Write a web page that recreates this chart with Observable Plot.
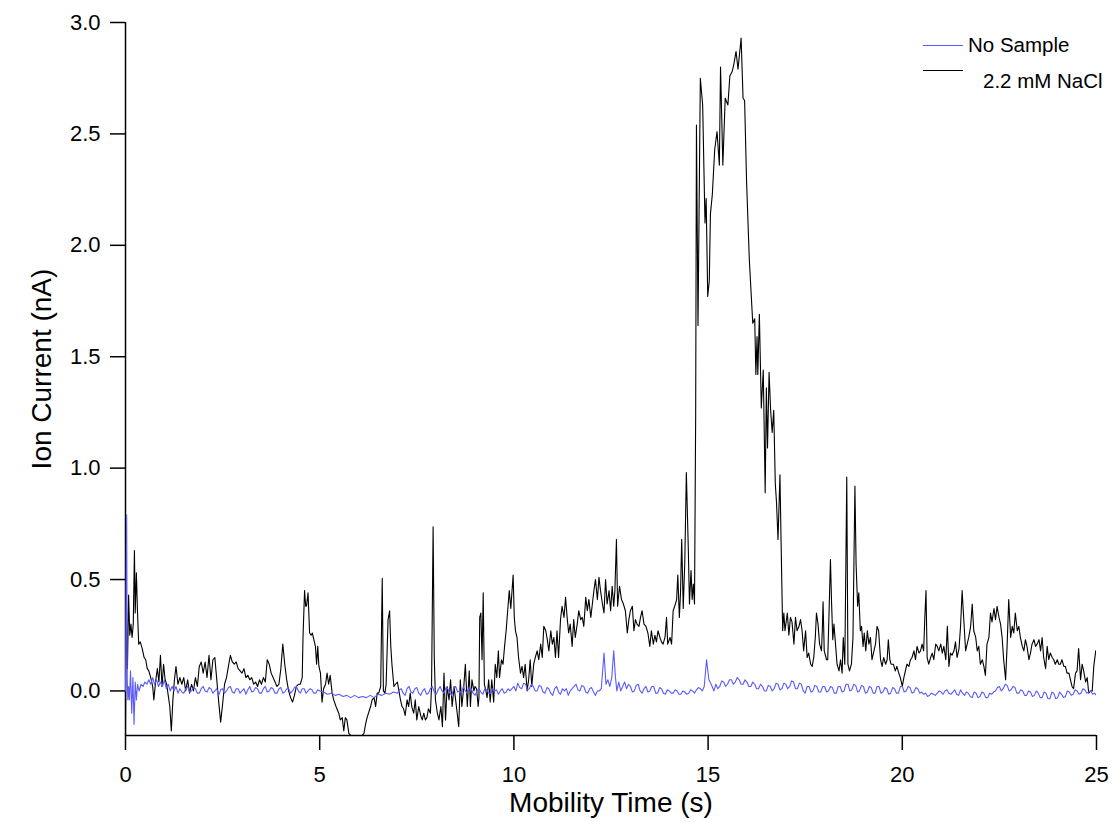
<!DOCTYPE html>
<html>
<head>
<meta charset="utf-8">
<script src="https://cdn.jsdelivr.net/npm/d3@7"></script>
<script src="https://cdn.jsdelivr.net/npm/@observablehq/plot@0.6"></script>
<style>
  html, body { margin: 0; padding: 0; background: #fff; }
  #wrap { position: relative; width: 1112px; height: 822px; font-family: "Liberation Sans", Arial, sans-serif; }
  .leg { position: absolute; display: flex; align-items: center; font-size: 20.5px; color: #000; white-space: nowrap; }
  .leg .sw { display: inline-block; width: 40px; height: 0; border-top: 1.2px solid; }
</style>
</head>
<body>
<div id="wrap"></div>
<script>
// ---- data ----
const seriesNames = ["No Sample", "2.2 mM NaCl"];
const seriesColors = ["#5b5bff", "#000000"];
const xTicks = [0, 5, 10, 15, 20, 25];
const yTicks = [0, 0.5, 1.0, 1.5, 2.0, 2.5, 3.0];
const xLabel = "Mobility Time (s)";
const yLabel = "Ion Current (nA)";

// No Sample trace [time s, current nA]
const noSample = [
[0,0.0],[0.03,0.79],[0.045,0.05],[0.06,-0.04],[0.08,0.02],[0.1,-0.04],[0.13,0.09],[0.16,-0.1],[0.19,0.06],[0.22,-0.15],[0.25,0.04],[0.28,-0.04],[0.31,0.03],[0.35,0.0],[0.4,0.03],[0.45,0.02],[0.5,0.04],[0.55,0.03],[0.6,0.05],[0.65,0.03],[0.7,0.06],[0.75,0.03],[0.8,0.05],[0.85,0.02],[0.9,0.04],[0.95,0.02],[1.0,0.05],[1.05,0.01],[1.1,0.03],[1.15,0.0],[1.2,0.02],[1.25,0.0],[1.3,0.02],[1.35,-0.01],
[1.4,0.01],[1.45,-0.005],[1.5,-0.01],[1.55,0.01],[1.6,0.02],[1.65,-0.005],[1.7,0.0],[1.75,0.015],[1.8,0.01],[1.85,-0.01],[1.9,-0.01],[1.95,0.01],[2.0,0.02],[2.05,0.0],[2.1,-0.005],[2.15,0.015],[2.2,0.01],[2.25,-0.01],[2.3,0.0],[2.35,0.01],[2.4,-0.02],[2.45,0.005],[2.5,0.01],[2.55,-0.01],[2.6,0.0],[2.65,0.015],[2.7,0.02],[2.75,-0.005],[2.8,-0.01],[2.85,0.01],[2.9,0.01],[2.95,-0.01],[3.0,0.0],[3.05,0.01],[3.1,-0.015],[3.15,0.005],[3.2,0.02],[3.25,-0.005],[3.3,0.0],[3.35,0.015],[3.4,0.01],[3.45,-0.01],[3.5,-0.01],[3.55,0.01],[3.6,0.02],[3.65,-0.005],[3.7,0.0],[3.75,0.015],[3.8,0.01],[3.85,-0.01],[3.9,-0.01],[3.95,0.01],[4.0,0.015],[4.05,-0.01],[4.1,-0.005],[4.15,0.01],[4.2,0.01],[4.25,-0.01],[4.3,0.0],[4.35,0.015],[4.4,0.02],[4.45,0.0],[4.5,-0.01],[4.55,0.01],[4.6,0.01],[4.65,-0.01],[4.7,0.0],[4.75,0.01],[4.8,0.005],[4.85,-0.01],[4.9,-0.01],[4.95,0.005],[5.0,0.0],
[5.1,-0.005],[5.2,-0.015],[5.3,-0.01],[5.4,-0.02],[5.5,-0.015],[5.6,-0.025],[5.7,-0.02],[5.8,-0.03],[5.9,-0.02],[6.0,-0.03],[6.1,-0.025],[6.2,-0.03],[6.3,-0.02],[6.4,-0.03],[6.5,-0.015],[6.6,-0.02],[6.7,-0.01],[6.8,-0.015],[6.9,-0.005],[7.0,-0.01],
[7.05,0.005],[7.1,0.01],[7.15,-0.01],[7.2,-0.02],[7.25,0.01],[7.3,0.02],[7.35,-0.005],[7.4,-0.01],[7.45,0.01],[7.5,0.015],[7.55,-0.01],[7.6,-0.02],[7.65,0.0],[7.7,0.01],[7.75,-0.015],[7.8,-0.01],[7.85,0.01],[7.9,0.02],[7.95,-0.005],[8.0,-0.015],[8.05,0.005],[8.1,0.02],[8.15,0.0],[8.2,-0.01],[8.25,0.015],[8.3,0.01],[8.35,-0.01],[8.4,-0.02],[8.45,0.01],[8.5,0.02],[8.55,-0.005],[8.6,0.0],[8.65,-0.01],[8.7,0.02],[8.75,0.0],[8.8,-0.01],[8.85,0.015],[8.9,0.01],[8.95,-0.01],[9.0,-0.02],[9.05,0.0],[9.1,0.01],[9.15,-0.005],[9.2,-0.015],[9.25,0.01],[9.3,0.005],[9.35,-0.01],[9.4,-0.01],[9.45,0.01],[9.5,0.0],[9.55,0.005],[9.6,-0.015],[9.65,0.0],[9.7,0.01],[9.75,-0.01],[9.8,-0.005],[9.85,0.01],[9.9,0.0],[9.95,0.01],[10.0,0.02],[10.05,0.0],[10.1,0.035],[10.15,0.015],[10.2,0.01],[10.25,0.035],[10.3,0.03],[10.35,0.005],[10.4,0.01],[10.45,0.03],[10.5,0.02],[10.55,0.0],[10.6,0.0],[10.65,0.025],[10.7,0.02],[10.75,-0.005],[10.8,-0.01],[10.85,0.015],[10.9,0.01],[10.95,-0.01],[11.0,-0.02],[11.05,0.01],[11.1,0.02],[11.15,-0.005],[11.2,-0.015],[11.25,0.01],[11.3,0.0],[11.35,0.01],[11.4,-0.02],[11.45,0.0],[11.5,0.01],[11.55,0.02],[11.6,0.03],[11.65,0.005],[11.7,0.0],[11.75,0.025],[11.8,0.02],[11.85,-0.005],[11.9,-0.01],[11.95,0.01],[12.0,0.015],[12.05,-0.005],[12.1,-0.02],[12.15,0.0],[12.2,0.0],[12.25,0.01],[12.32,0.17],[12.37,0.03],[12.42,0.05],[12.47,0.02],[12.52,0.06],[12.57,0.18],[12.61,0.07],[12.65,0.0],[12.7,0.04],[12.75,0.0],[12.8,0.02],[12.85,0.04],[12.9,0.01],[12.95,0.03],[13.0,0.02],[13.05,-0.005],[13.1,0.0],[13.15,0.025],[13.2,0.03],[13.25,0.0],[13.3,-0.01],[13.35,0.01],[13.4,0.02],[13.45,-0.005],[13.5,0.0],[13.55,0.02],[13.6,0.02],[13.65,-0.01],[13.7,-0.01],[13.75,0.015],[13.8,0.01],[13.85,-0.01],[13.9,-0.015],[13.95,0.005],[14.0,0.0],[14.05,-0.01],[14.1,-0.01],[14.15,0.005],[14.2,0.0],[14.25,-0.015],[14.3,-0.015],[14.35,0.0],[14.4,-0.005],[14.45,-0.015],[14.5,-0.01],[14.55,0.005],[14.6,0.0],[14.65,-0.01],[14.7,0.005],[14.75,0.015],[14.8,0.01],[14.85,0.0],[14.9,0.02],[14.96,0.14],[15.02,0.05],[15.08,0.03],[15.15,0.0],[15.2,0.03],[15.25,0.01],[15.3,0.02],[15.35,0.045],[15.4,0.04],[15.45,0.02],[15.5,0.03],[15.55,0.05],[15.6,0.05],[15.65,0.03],[15.7,0.04],[15.75,0.06],[15.8,0.05],[15.85,0.03],[15.9,0.03],[15.95,0.05],[16.0,0.04],[16.05,0.02],[16.1,0.02],[16.15,0.04],[16.2,0.03],[16.25,0.01],[16.3,0.01],[16.35,0.03],[16.4,0.02],[16.45,0.0],[16.5,0.0],[16.55,0.025],[16.6,0.02],[16.65,0.0],[16.7,0.01],[16.75,0.035],[16.8,0.03],[16.85,0.005],[16.9,0.01],[16.95,0.035],[17.0,0.03],[17.05,0.01],[17.1,0.02],[17.15,0.045],[17.2,0.04],[17.25,0.01],[17.3,0.01],[17.35,0.035],[17.4,0.03],[17.45,0.0],[17.5,-0.01],[17.55,0.02],[17.6,0.02],[17.65,-0.005],[17.7,0.0],[17.75,0.025],[17.8,0.02],[17.85,-0.005],[17.9,-0.005],[17.95,0.02],[18.0,0.02],[18.05,-0.005],[18.1,0.0],[18.15,0.02],[18.2,0.015],[18.25,-0.01],[18.3,-0.01],[18.35,0.02],[18.4,0.02],[18.45,-0.005],[18.5,0.0],[18.55,0.03],[18.6,0.03],[18.65,0.0],[18.7,0.005],[18.75,0.03],[18.8,0.025],[18.85,-0.005],[18.9,0.0],[18.95,0.025],[19.0,0.02],[19.05,-0.01],[19.1,-0.005],[19.15,0.02],[19.2,0.015],[19.25,-0.01],[19.3,-0.01],[19.35,0.02],[19.4,0.02],[19.45,-0.01],[19.5,-0.005],[19.55,0.015],[19.6,0.01],[19.65,-0.015],[19.7,-0.01],[19.75,0.015],[19.8,0.01],[19.85,-0.01],[19.9,-0.01],[19.95,0.02],[20.0,0.02],[20.05,-0.005],[20.1,0.0],[20.15,0.02],[20.2,0.015],[20.25,-0.01],[20.3,-0.005],[20.35,0.015],[20.4,0.01],[20.45,-0.01],[20.5,-0.005],[20.55,-0.015],[20.6,-0.01],[20.65,-0.025],[20.7,-0.02],[20.75,-0.01],[20.8,-0.015],[20.85,-0.02],[20.9,-0.01],[20.95,0.0],[21.0,-0.005],[21.05,-0.015],[21.1,0.0],[21.15,0.005],[21.2,-0.01],[21.25,-0.015],[21.3,-0.005],[21.35,0.005],[21.4,-0.015],[21.45,-0.02],[21.5,0.005],[21.55,-0.01],[21.6,-0.02],[21.65,-0.005],[21.7,-0.01],[21.75,-0.025],[21.8,-0.03],[21.85,-0.005],[21.9,-0.01],[21.95,-0.03],[22.0,-0.025],[22.05,-0.005],[22.1,-0.01],[22.15,-0.03],[22.2,-0.03],[22.25,-0.01],[22.3,-0.015],[22.35,-0.005],[22.4,0.0],[22.45,0.015],[22.5,0.02],[22.55,0.0],[22.6,0.01],[22.65,0.03],[22.7,0.025],[22.75,0.0],[22.8,0.005],[22.85,0.02],[22.9,0.015],[22.95,-0.01],[23.0,-0.01],[23.05,0.005],[23.1,0.0],[23.15,-0.02],[23.2,-0.02],[23.25,0.0],[23.3,-0.005],[23.35,-0.025],[23.4,-0.02],[23.45,0.0],[23.5,-0.01],[23.55,-0.03],[23.6,-0.03],[23.65,-0.005],[23.7,-0.01],[23.75,-0.035],[23.8,-0.035],[23.85,-0.005],[23.9,-0.01],[23.95,-0.035],[24.0,-0.03],[24.05,-0.005],[24.1,-0.015],[24.15,-0.03],[24.2,-0.025],[24.25,0.0],[24.3,-0.005],[24.35,-0.02],[24.4,-0.015],[24.45,0.005],[24.5,0.0],[24.55,-0.015],[24.6,-0.01],[24.65,0.01],[24.7,0.005],[24.75,-0.01],[24.8,-0.005],[24.85,0.0],[24.9,-0.015],[24.95,-0.01],[25.0,-0.02]
];

// 2.2 mM NaCl trace [time s, current nA]
const nacl = [
[0,-0.2],[0.02,0.43],[0.05,0.1],[0.08,0.43],[0.11,0.25],[0.14,0.3],[0.17,0.24],[0.2,0.3],[0.23,0.63],[0.25,0.35],[0.28,0.53],[0.31,0.35],[0.34,0.21],[0.38,0.22],[0.43,0.19],[0.48,0.15],[0.52,0.14],[0.56,0.1],[0.6,0.09],[0.65,0.06],[0.7,0.02],[0.73,-0.04],[0.78,0.05],[0.82,0.1],[0.86,0.04],[0.9,0.16],[0.94,0.02],[0.98,0.12],[1.02,0.05],[1.06,0.03],[1.1,-0.02],[1.14,-0.07],[1.18,-0.18],[1.22,-0.04],[1.26,0.05],[1.3,0.11],[1.35,0.03],[1.4,0.06],[1.45,0.03],[1.5,0.06],[1.55,0.0],[1.6,0.05],[1.65,-0.01],[1.7,0.03],[1.75,0.0],[1.8,0.06],[1.85,0.02],[1.9,0.11],[1.95,0.13],[2.0,0.08],[2.05,0.13],[2.1,0.06],[2.15,0.16],[2.2,0.05],[2.25,0.14],[2.3,0.15],[2.35,0.05],[2.4,-0.05],[2.45,-0.14],[2.5,-0.06],[2.55,0.03],[2.6,0.06],[2.65,0.11],[2.7,0.16],[2.75,0.13],[2.8,0.12],[2.85,0.13],[2.9,0.1],[2.95,0.09],[3.0,0.08],[3.05,0.1],[3.1,0.06],[3.15,0.07],[3.2,0.05],[3.25,0.06],[3.3,0.03],[3.35,0.04],[3.4,0.02],[3.45,0.05],[3.5,0.03],[3.55,0.06],[3.6,0.04],[3.65,0.14],[3.7,0.12],[3.75,0.08],[3.8,0.06],[3.85,0.04],[3.9,0.02],[3.95,0.03],[4.0,0.1],[4.05,0.21],[4.1,0.12],[4.15,0.05],[4.2,0.0],[4.25,-0.03],[4.3,-0.05],[4.35,-0.02],[4.4,0.02],[4.45,0.03],[4.5,0.03],
[4.55,0.06],[4.57,0.24],[4.61,0.45],[4.64,0.38],[4.66,0.38],[4.7,0.44],[4.74,0.26],[4.78,0.25],[4.81,0.26],[4.85,0.23],[4.89,0.2],[4.92,0.12],[4.95,0.2],[4.98,0.11],[5.02,0.08],[5.06,-0.05],[5.1,0.01],[5.15,0.03],[5.19,0.08],[5.23,0.03],[5.27,0.07],[5.32,-0.01],[5.36,-0.04],[5.42,-0.07],[5.49,-0.1],[5.53,-0.13],[5.58,-0.12],[5.62,-0.18],[5.66,-0.12],[5.7,-0.13],[5.75,-0.19],[5.8,-0.2],[5.9,-0.21],[5.96,-0.2],[6.05,-0.21],[6.14,-0.19],[6.18,-0.15],[6.22,-0.12],[6.31,-0.07],[6.35,-0.04],[6.4,-0.03],[6.44,-0.07],[6.48,-0.01],[6.52,-0.01],[6.57,0.02],[6.61,0.505],[6.64,0.0],[6.68,-0.01],[6.71,0.03],[6.76,0.32],[6.8,0.36],[6.83,0.2],[6.86,0.12],[6.91,0.02],[6.95,0.03],[7.0,0.04],[7.04,0.0],[7.08,-0.04],[7.12,-0.07],[7.16,-0.08],[7.2,-0.11],[7.25,-0.04],[7.29,-0.07],[7.33,-0.01],[7.37,-0.07],[7.42,-0.1],[7.46,-0.04],[7.5,-0.13],[7.55,-0.07],[7.6,-0.11],[7.64,-0.13],[7.68,-0.1],[7.72,-0.13],[7.76,-0.12],[7.8,-0.08],[7.85,-0.1],[7.88,0.02],[7.92,0.737],[7.95,0.15],[7.98,-0.04],[8.03,-0.1],[8.07,-0.13],[8.12,-0.07],[8.16,-0.16],[8.2,0.08],[8.24,-0.13],[8.28,0.02],[8.33,-0.04],[8.37,0.05],[8.41,-0.07],[8.46,0.02],[8.5,-0.04],[8.54,-0.1],[8.58,-0.16],[8.62,0.05],[8.66,-0.07],[8.71,0.02],[8.75,0.12],[8.8,-0.07],[8.85,0.09],
[8.88,-0.07],[8.92,0.05],[8.97,0.0],[9.0,0.02],[9.04,0.01],[9.08,-0.07],[9.1,-0.03],[9.12,0.33],[9.15,0.35],[9.18,0.14],[9.21,0.44],[9.24,0.03],[9.28,0.0],[9.31,-0.03],[9.35,0.05],[9.39,-0.05],[9.43,0.05],[9.48,-0.05],[9.52,0.12],[9.56,0.06],[9.6,0.18],[9.63,0.06],[9.68,0.14],[9.72,0.12],[9.76,0.2],[9.8,0.27],[9.84,0.36],[9.88,0.45],[9.92,0.37],[9.98,0.52],[10.01,0.33],[10.04,0.27],[10.08,0.24],[10.12,0.15],[10.17,0.08],[10.21,0.11],[10.25,0.06],[10.29,0.12],[10.34,0.0],[10.38,0.05],[10.42,0.14],[10.46,0.02],[10.51,0.12],[10.55,0.15],[10.6,0.18],[10.64,0.14],[10.69,0.21],[10.73,0.15],[10.77,0.29],[10.82,0.27],[10.86,0.23],[10.9,0.18],[10.95,0.27],[10.99,0.21],[11.03,0.24],[11.07,0.15],[11.11,0.27],[11.15,0.15],[11.2,0.32],[11.24,0.38],[11.29,0.33],[11.33,0.42],[11.37,0.33],[11.41,0.26],[11.45,0.3],[11.5,0.2],[11.54,0.32],[11.58,0.24],[11.63,0.3],[11.67,0.36],[11.72,0.32],[11.76,0.33],[11.8,0.29],[11.85,0.42],[11.89,0.36],[11.93,0.41],[11.98,0.33],[12.02,0.39],[12.06,0.45],[12.1,0.5],[12.15,0.41],[12.19,0.51],[12.23,0.45],[12.28,0.39],[12.32,0.35],[12.36,0.5],[12.4,0.39],[12.45,0.45],[12.49,0.36],[12.53,0.47],[12.57,0.38],[12.6,0.45],[12.64,0.68],[12.67,0.38],[12.72,0.47],[12.77,0.41],[12.82,0.39],[12.87,0.36],[12.92,0.26],[12.96,0.32],[13.0,0.36],[13.05,0.38],[13.09,0.27],[13.13,0.32],[13.17,0.3],[13.22,0.29],[13.26,0.33],[13.3,0.36],[13.35,0.3],[13.4,0.29],[13.45,0.26],
[13.5,0.2],[13.54,0.27],[13.59,0.21],[13.63,0.25],[13.67,0.22],[13.71,0.27],[13.76,0.24],[13.8,0.22],[13.84,0.21],[13.89,0.24],[13.93,0.33],[13.96,0.21],[14.02,0.24],[14.06,0.21],[14.1,0.36],[14.14,0.38],[14.19,0.41],[14.22,0.52],[14.26,0.33],[14.29,0.44],[14.32,0.68],[14.36,0.37],[14.4,0.58],[14.44,0.98],[14.49,0.64],[14.52,0.39],[14.56,0.54],[14.59,0.41],[14.62,0.48],[14.65,0.39],[14.68,1.24],[14.7,2.54],[14.74,1.64],[14.8,2.75],[14.86,2.63],[14.92,2.1],[14.95,2.21],[14.99,1.77],[15.03,1.84],[15.06,2.14],[15.11,2.23],[15.17,2.43],[15.23,2.51],[15.29,2.36],[15.32,2.8],[15.38,2.36],[15.44,2.66],[15.51,2.63],[15.56,2.76],[15.62,2.78],[15.66,2.81],[15.72,2.87],[15.77,2.79],[15.85,2.93],[15.9,2.66],[15.94,2.65],[15.99,2.29],[16.06,1.94],[16.15,1.65],[16.2,1.67],[16.23,1.42],[16.26,1.59],[16.28,1.42],[16.32,1.69],[16.37,1.27],[16.42,1.44],[16.47,0.89],[16.5,1.36],[16.53,1.09],[16.57,1.43],[16.61,1.26],[16.65,1.16],[16.69,1.26],[16.73,0.93],[16.76,0.85],[16.8,0.68],[16.85,0.97],[16.88,0.66],[16.92,0.27],[16.95,0.35],[16.98,0.27],[17.04,0.35],[17.08,0.25],[17.12,0.33],[17.16,0.31],[17.21,0.21],[17.25,0.33],[17.29,0.27],[17.34,0.29],
[17.38,0.32],[17.42,0.27],[17.46,0.18],[17.51,0.27],[17.55,0.15],[17.59,0.17],[17.64,0.12],[17.68,0.11],[17.72,0.15],[17.76,0.24],[17.79,0.35],[17.83,0.3],[17.87,0.21],[17.92,0.18],[17.94,0.27],[17.96,0.4],[17.99,0.18],[18.05,0.14],[18.08,0.14],[18.12,0.39],[18.15,0.59],[18.18,0.39],[18.21,0.23],[18.24,0.3],[18.28,0.21],[18.32,0.12],[18.37,0.09],[18.41,0.14],[18.45,0.08],[18.48,0.24],[18.52,0.12],[18.57,0.96],[18.6,0.12],[18.64,0.09],[18.69,0.12],[18.73,0.24],[18.78,0.92],[18.81,0.57],[18.85,0.38],[18.88,0.44],[18.92,0.27],[18.95,0.29],[18.99,0.2],[19.02,0.26],[19.06,0.18],[19.1,0.27],[19.14,0.21],[19.18,0.24],[19.22,0.14],[19.27,0.18],[19.31,0.21],[19.35,0.29],[19.39,0.27],[19.44,0.14],[19.48,0.11],[19.52,0.15],[19.57,0.12],[19.61,0.14],[19.64,0.23],[19.68,0.14],[19.71,0.12],[19.77,0.12],[19.82,0.09],[19.86,0.11],[19.91,0.08],[19.95,0.06],[20.0,0.02],[20.04,0.06],[20.08,0.09],[20.12,0.12],[20.17,0.11],[20.21,0.14],[20.25,0.15],[20.3,0.18],[20.34,0.14],[20.38,0.2],[20.43,0.17],[20.47,0.18],[20.51,0.21],[20.55,0.18],[20.58,0.33],[20.61,0.45],[20.64,0.15],[20.68,0.12],[20.73,0.15],[20.77,0.17],[20.81,0.14],[20.86,0.21],[20.9,0.2],[20.94,0.18],[20.99,0.21],[21.03,0.17],[21.07,0.2],[21.12,0.14],[21.16,0.29],[21.2,0.11],[21.24,0.17],
[21.28,0.16],[21.33,0.18],[21.37,0.22],[21.41,0.15],[21.46,0.19],[21.5,0.29],[21.54,0.45],[21.58,0.33],[21.63,0.18],[21.67,0.21],[21.71,0.24],[21.76,0.29],[21.8,0.39],[21.84,0.27],[21.89,0.24],[21.93,0.18],[21.97,0.2],[22.01,0.12],[22.06,0.14],[22.1,0.11],[22.14,0.07],[22.18,0.21],[22.23,0.24],[22.27,0.35],[22.31,0.31],[22.36,0.37],[22.4,0.32],[22.44,0.38],[22.49,0.33],[22.53,0.3],[22.57,0.24],[22.61,0.14],[22.66,0.05],[22.7,0.21],[22.74,0.41],[22.79,0.24],[22.83,0.29],[22.87,0.26],[22.91,0.35],[22.96,0.27],[23.0,0.29],[23.04,0.24],[23.09,0.2],[23.13,0.18],[23.17,0.23],[23.21,0.2],[23.26,0.14],[23.3,0.17],[23.34,0.21],[23.39,0.23],[23.43,0.2],[23.47,0.21],[23.52,0.23],[23.56,0.18],[23.6,0.24],[23.64,0.15],[23.69,0.1],[23.73,0.2],[23.77,0.14],[23.81,0.17],[23.86,0.15],[23.9,0.14],[23.94,0.12],[23.99,0.14],[24.03,0.12],[24.07,0.12],[24.11,0.14],[24.16,0.11],[24.2,0.11],[24.24,0.08],[24.29,0.08],[24.33,0.05],[24.37,0.02],[24.41,0.01],[24.46,0.08],[24.5,0.09],[24.54,0.19],[24.59,0.05],[24.63,0.12],[24.67,0.09],[24.72,0.04],[24.76,0.06],[24.8,-0.01],[24.84,0.0],[24.89,0.0],[24.93,0.11],[24.98,0.18]
];

// ---- chart ----
const chart = Plot.plot({
  width: 1112,
  height: 822,
  marginLeft: 125,
  marginRight: 16,
  marginTop: 22,
  marginBottom: 87,
  style: { fontFamily: '"Liberation Sans", Arial, sans-serif', background: "#ffffff", color: "#000000", overflow: "visible" },
  x: { domain: [0, 25] },
  y: { domain: [-0.2, 3.0] },
  marks: [
    Plot.ruleX([0], { stroke: "#000", strokeWidth: 1.5 }),
    Plot.ruleY([-0.2], { stroke: "#000", strokeWidth: 1.5 }),
    Plot.axisX({ ticks: xTicks, tickSize: 15, tickPadding: 16, fontSize: 22, tickFormat: d3.format("d"), label: null, strokeWidth: 1.5 }),
    Plot.axisY({ ticks: yTicks, tickSize: 15, tickPadding: 10, fontSize: 22, tickFormat: d3.format(".1f"), label: null, strokeWidth: 1.5 }),
    Plot.line(nacl, { x: d => d[0], y: d => d[1], stroke: seriesColors[1], strokeWidth: 1.1, clip: true }),
    Plot.line(noSample, { x: d => d[0], y: d => d[1], stroke: seriesColors[0], strokeWidth: 1.1, clip: true }),
    Plot.text([xLabel], { frameAnchor: "bottom", dy: 68, fontSize: 28, textAnchor: "middle", lineAnchor: "middle", fill: "#000" }),
    Plot.text([yLabel], { frameAnchor: "left", dx: -83, dy: -10, rotate: -90, fontSize: 28, textAnchor: "middle", lineAnchor: "middle", fill: "#000" })
  ]
});

const wrap = document.getElementById("wrap");
wrap.appendChild(chart);

// ---- legend (HTML overlay, top right inside the plot) ----
const legendPos = [ { left: 923, top: 45, textGap: 5 }, { left: 923, top: 70, textGap: 20, textDrop: 11 } ];
seriesNames.forEach((name, i) => {
  const row = document.createElement("div");
  row.className = "leg";
  row.style.left = legendPos[i].left + "px";
  row.style.top = (legendPos[i].top - 12) + "px";
  row.style.height = "24px";
  const sw = document.createElement("span");
  sw.className = "sw";
  sw.style.borderTopColor = seriesColors[i];
  const tx = document.createElement("span");
  tx.textContent = name;
  tx.style.marginLeft = legendPos[i].textGap + "px";
  if (legendPos[i].textDrop) { tx.style.position = "relative"; tx.style.top = legendPos[i].textDrop + "px"; }
  row.appendChild(sw);
  row.appendChild(tx);
  wrap.appendChild(row);
});
</script>
</body>
</html>
